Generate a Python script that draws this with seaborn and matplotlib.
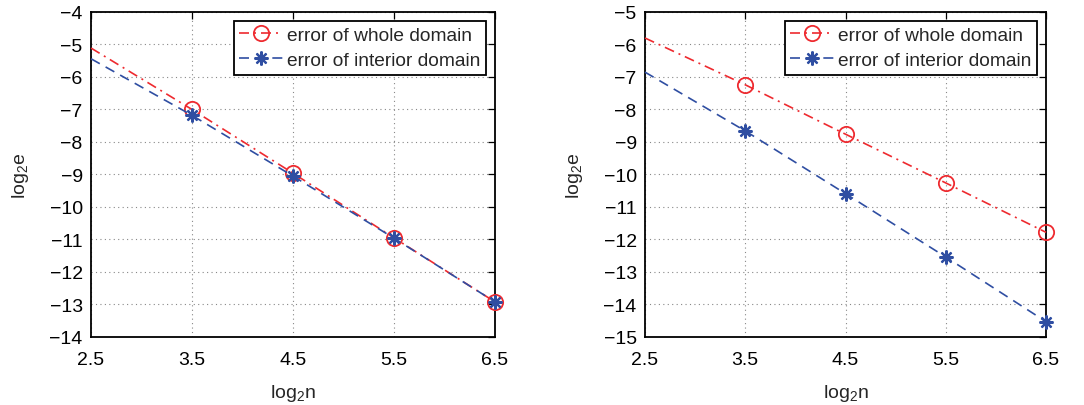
import matplotlib
matplotlib.use("Agg")
import matplotlib.pyplot as plt
import seaborn as sns
import pandas as pd

# ---- data ----
x_vals = [2.5, 3.5, 4.5, 5.5, 6.5]
x_ticks = [2.5, 3.5, 4.5, 5.5, 6.5]

left_whole = [-5.11, -7.0, -8.96, -10.95, -12.92]
left_interior = [-5.44, -7.18, -9.05, -10.96, -12.92]
right_whole = [-5.80, -7.24, -8.76, -10.26, -11.78]
right_interior = [-6.85, -8.66, -10.59, -12.54, -14.53]

left_yticks = list(range(-14, -3))
right_yticks = list(range(-15, -4))

labels = ["error of whole domain", "error of interior domain"]

sns.set_theme(style="white")
plt.rcParams["font.family"] = ["Liberation Sans", "DejaVu Sans"]
plt.rcParams["mathtext.fontset"] = "custom"
plt.rcParams["mathtext.rm"] = "Liberation Sans"
plt.rcParams["mathtext.it"] = "Liberation Sans"
plt.rcParams["mathtext.default"] = "regular"

RED = "#ee2a2f"
BLUE = "#2f4ea2"

fig = plt.figure(figsize=(10.84, 4.06), dpi=100)
ax1 = fig.add_axes([0.084, 0.1675, 0.3726, 0.8005])
ax2 = fig.add_axes([0.595, 0.1675, 0.370, 0.8005])

panels = [
    (ax1, left_whole, left_interior, left_yticks),
    (ax2, right_whole, right_interior, right_yticks),
]

for ax, whole, interior, yticks in panels:
    df_w = pd.DataFrame({"x": x_vals, "y": whole})
    df_i = pd.DataFrame({"x": x_vals, "y": interior})
    sns.lineplot(data=df_w, x="x", y="y", ax=ax, color=RED, linewidth=1.2,
                 marker="o", markevery=[1, 2, 3, 4],
                 markersize=11, markerfacecolor="none", markeredgecolor=RED,
                 markeredgewidth=1.3, label=labels[0], clip_on=False, zorder=3)
    sns.lineplot(data=df_i, x="x", y="y", ax=ax, color=BLUE, linewidth=1.2,
                 marker=(8, 2, 0), markevery=[1, 2, 3, 4],
                 markersize=10, markerfacecolor=BLUE, markeredgecolor=BLUE,
                 markeredgewidth=1.6, label=labels[1], clip_on=False, zorder=4)
    lines = ax.get_lines()
    lines[0].set_dashes([6, 3, 1.2, 3])
    lines[1].set_dashes([6, 4])

    ax.set_xlim(2.5, 6.5)
    ax.set_ylim(yticks[0], yticks[-1])
    ax.set_xticks(x_ticks)
    ax.set_xticklabels([str(t) for t in x_ticks])
    ax.set_yticks(yticks)
    ax.set_yticklabels([f"\u2212{abs(t)}" for t in yticks])
    ax.grid(True, linestyle=(0, (1, 3)), color="#888888", linewidth=0.8)
    ax.tick_params(direction="in", length=5, width=0.9, top=True, right=True,
                   labelsize=14, colors="black", pad=6)
    ax.tick_params(axis="x", pad=10)
    for s in ax.spines.values():
        s.set_visible(True)
        s.set_color("black")
        s.set_linewidth(1.3)
    ax.set_xlabel(r"log$_2$n", fontsize=14, labelpad=10)
    ax.set_ylabel(r"log$_2$e", fontsize=14, labelpad=13)
    leg = ax.legend(loc="upper right", fontsize=13.8, frameon=True, fancybox=False,
                    edgecolor="black", framealpha=1, borderpad=0.3,
                    handlelength=2.3, handletextpad=0.2, labelspacing=0.4,
                    borderaxespad=0.45)
    leg.get_frame().set_linewidth(1.3)

fig.savefig("out.png", dpi=100)
